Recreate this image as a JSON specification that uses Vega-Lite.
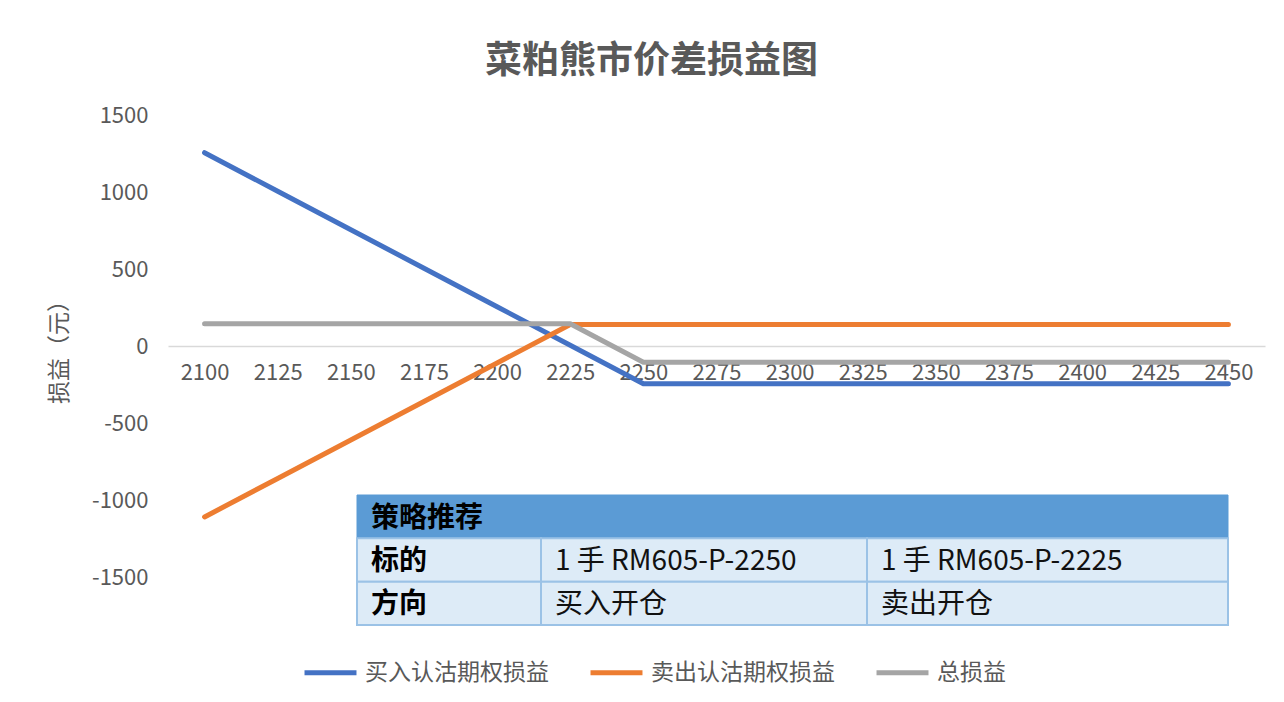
{
  "$schema": "https://vega.github.io/schema/vega-lite/v6.json",
  "autosize": "none",
  "width": 1097,
  "height": 462,
  "padding": {"left": 168, "top": 115, "right": 19, "bottom": 125},
  "background": "#ffffff",
  "config": {
    "view": {"stroke": null},
    "font": "Noto Sans CJK SC"
  },
  "title": {
    "text": "菜粕熊市价差损益图",
    "fontSize": 37,
    "fontWeight": "bold",
    "color": "#595959",
    "font": "Noto Sans CJK SC",
    "anchor": "middle",
    "dx": -65,
    "offset": 23
  },
  "layer": [
    {
      "data": {
        "values": [
          {"price": 2100, "series": "买入认沽期权损益", "pnl": 1255},
          {"price": 2125, "series": "买入认沽期权损益", "pnl": 1005},
          {"price": 2150, "series": "买入认沽期权损益", "pnl": 755},
          {"price": 2175, "series": "买入认沽期权损益", "pnl": 505},
          {"price": 2200, "series": "买入认沽期权损益", "pnl": 255},
          {"price": 2225, "series": "买入认沽期权损益", "pnl": 5},
          {"price": 2250, "series": "买入认沽期权损益", "pnl": -245},
          {"price": 2275, "series": "买入认沽期权损益", "pnl": -245},
          {"price": 2300, "series": "买入认沽期权损益", "pnl": -245},
          {"price": 2325, "series": "买入认沽期权损益", "pnl": -245},
          {"price": 2350, "series": "买入认沽期权损益", "pnl": -245},
          {"price": 2375, "series": "买入认沽期权损益", "pnl": -245},
          {"price": 2400, "series": "买入认沽期权损益", "pnl": -245},
          {"price": 2425, "series": "买入认沽期权损益", "pnl": -245},
          {"price": 2450, "series": "买入认沽期权损益", "pnl": -245},
          {"price": 2100, "series": "卖出认沽期权损益", "pnl": -1110},
          {"price": 2125, "series": "卖出认沽期权损益", "pnl": -860},
          {"price": 2150, "series": "卖出认沽期权损益", "pnl": -610},
          {"price": 2175, "series": "卖出认沽期权损益", "pnl": -360},
          {"price": 2200, "series": "卖出认沽期权损益", "pnl": -110},
          {"price": 2225, "series": "卖出认沽期权损益", "pnl": 140},
          {"price": 2250, "series": "卖出认沽期权损益", "pnl": 140},
          {"price": 2275, "series": "卖出认沽期权损益", "pnl": 140},
          {"price": 2300, "series": "卖出认沽期权损益", "pnl": 140},
          {"price": 2325, "series": "卖出认沽期权损益", "pnl": 140},
          {"price": 2350, "series": "卖出认沽期权损益", "pnl": 140},
          {"price": 2375, "series": "卖出认沽期权损益", "pnl": 140},
          {"price": 2400, "series": "卖出认沽期权损益", "pnl": 140},
          {"price": 2425, "series": "卖出认沽期权损益", "pnl": 140},
          {"price": 2450, "series": "卖出认沽期权损益", "pnl": 140},
          {"price": 2100, "series": "总损益", "pnl": 145},
          {"price": 2125, "series": "总损益", "pnl": 145},
          {"price": 2150, "series": "总损益", "pnl": 145},
          {"price": 2175, "series": "总损益", "pnl": 145},
          {"price": 2200, "series": "总损益", "pnl": 145},
          {"price": 2225, "series": "总损益", "pnl": 145},
          {"price": 2250, "series": "总损益", "pnl": -105},
          {"price": 2275, "series": "总损益", "pnl": -105},
          {"price": 2300, "series": "总损益", "pnl": -105},
          {"price": 2325, "series": "总损益", "pnl": -105},
          {"price": 2350, "series": "总损益", "pnl": -105},
          {"price": 2375, "series": "总损益", "pnl": -105},
          {"price": 2400, "series": "总损益", "pnl": -105},
          {"price": 2425, "series": "总损益", "pnl": -105},
          {"price": 2450, "series": "总损益", "pnl": -105}
        ]
      },
      "mark": {"type": "line", "strokeWidth": 5, "strokeCap": "round", "strokeJoin": "round"},
      "encoding": {
        "x": {
          "field": "price",
          "type": "quantitative",
          "scale": {"domain": [2087.5, 2462.5], "nice": false, "zero": false},
          "axis": {
            "title": null,
            "values": [2100, 2125, 2150, 2175, 2200, 2225, 2250, 2275, 2300, 2325, 2350, 2375, 2400, 2425, 2450],
            "labelExpr": "toString(datum.value)",
            "offset": -231,
            "grid": false,
            "ticks": false,
            "domainColor": "#D9D9D9",
            "domainWidth": 1.5,
            "labelFontSize": 22,
            "labelColor": "#595959",
            "labelFont": "Noto Sans CJK SC",
            "labelPadding": 16,
            "labelFlush": false,
            "labelOverlap": false
          }
        },
        "y": {
          "field": "pnl",
          "type": "quantitative",
          "scale": {"domain": [-1500, 1500], "nice": false},
          "axis": {
            "title": "损益（元）",
            "titleFontSize": 23,
            "titleFontWeight": "normal",
            "titleColor": "#595959",
            "titleFont": "Noto Sans CJK SC",
            "titlePadding": 20,
            "values": [-1500, -1000, -500, 0, 500, 1000, 1500],
            "labelExpr": "toString(datum.value)",
            "grid": false,
            "ticks": false,
            "domain": false,
            "labelFontSize": 22,
            "labelColor": "#595959",
            "labelFont": "Noto Sans CJK SC",
            "labelPadding": 20,
            "labelFlush": false
          }
        },
        "color": {
          "field": "series",
          "type": "nominal",
          "scale": {
            "domain": ["买入认沽期权损益", "卖出认沽期权损益", "总损益"],
            "range": ["#4472C4", "#ED7D31", "#A5A5A5"]
          },
          "legend": {
            "title": null,
            "orient": "none",
            "direction": "horizontal",
            "legendX": 134,
            "legendY": 529,
            "symbolType": "stroke",
            "symbolStrokeWidth": 5,
            "symbolSize": 2700,
            "labelFontSize": 23,
            "labelColor": "#595959",
            "labelFont": "Noto Sans CJK SC",
            "labelOffset": 6,
            "columnPadding": 31,
            "labelLimit": 400
          }
        }
      }
    },
    {
      "data": {
        "values": [
          {"r": 0, "c0": 0, "c1": 3, "kind": "header", "text": "策略推荐"},
          {"r": 1, "c0": 0, "c1": 1, "kind": "label", "text": "标的"},
          {"r": 1, "c0": 1, "c1": 2, "kind": "cell", "text": "1 手 RM605-P-2250"},
          {"r": 1, "c0": 2, "c1": 3, "kind": "cell", "text": "1 手 RM605-P-2225"},
          {"r": 2, "c0": 0, "c1": 1, "kind": "label", "text": "方向"},
          {"r": 2, "c0": 1, "c1": 2, "kind": "cell", "text": "买入开仓"},
          {"r": 2, "c0": 2, "c1": 3, "kind": "cell", "text": "卖出开仓"}
        ]
      },
      "encoding": {
        "x": {
          "field": "c0",
          "type": "quantitative",
          "scale": {"domain": [0, 1, 2, 3], "range": [189, 373, 699, 1060], "nice": false, "zero": false},
          "axis": null
        },
        "y": {
          "field": "r",
          "type": "ordinal",
          "scale": {"type": "band", "domain": [0, 1, 2], "range": [380, 510], "paddingInner": 0, "paddingOuter": 0},
          "axis": null
        }
      },
      "layer": [
        {
          "transform": [{"filter": "datum.kind === 'header'"}],
          "mark": {"type": "rect", "fill": "#5B9BD5", "stroke": "#5B9BD5", "strokeWidth": 1},
          "encoding": {"x2": {"field": "c1"}}
        },
        {
          "transform": [{"filter": "datum.kind !== 'header'"}],
          "mark": {"type": "rect", "fill": "#DDEBF7", "stroke": "#9BC2E6", "strokeWidth": 2},
          "encoding": {"x2": {"field": "c1"}}
        },
        {
          "transform": [{"filter": "datum.kind !== 'cell'"}],
          "mark": {"type": "text", "align": "left", "baseline": "middle", "dx": 14, "dy": 2, "fontSize": 28, "fontWeight": "bold", "color": "#000000", "font": "Noto Sans CJK SC"},
          "encoding": {"text": {"field": "text"}}
        },
        {
          "transform": [{"filter": "datum.kind === 'cell'"}],
          "mark": {"type": "text", "align": "left", "baseline": "middle", "dx": 14, "dy": 2, "fontSize": 28, "fontWeight": "normal", "color": "#111111", "font": "Noto Sans CJK SC"},
          "encoding": {"text": {"field": "text"}}
        }
      ]
    }
  ],
  "resolve": {"scale": {"x": "independent", "y": "independent"}}
}
